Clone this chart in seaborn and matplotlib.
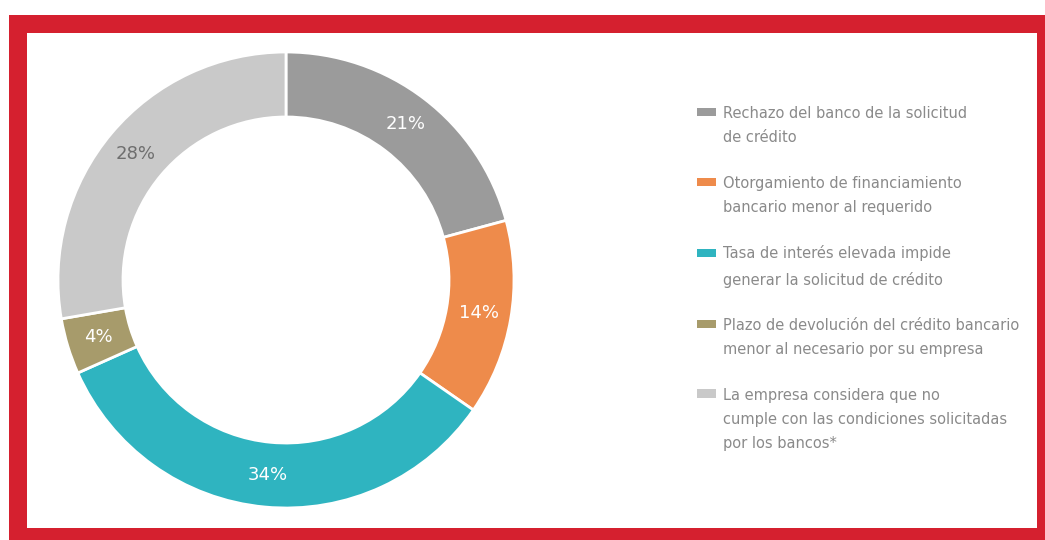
import matplotlib
matplotlib.use("Agg")
from matplotlib import pyplot as plt
from matplotlib.patches import Rectangle, Patch
from matplotlib.legend_handler import HandlerPatch
import seaborn as sns

# data
categorias = [
    "Rechazo del banco de la solicitud\nde crédito",
    "Otorgamiento de financiamiento\nbancario menor al requerido",
    "Tasa de interés elevada impide\ngenerar la solicitud de crédito",
    "Plazo de devolución del crédito bancario\nmenor al necesario por su empresa",
    "La empresa considera que no\ncumple con las condiciones solicitadas\npor los bancos*",
]
porcentajes = [21, 14, 34, 4, 28]
colores = ["#9b9b9b", "#ee8b4b", "#2fb4c0", "#a79b6b", "#c9c9c9"]
colores_texto = ["white", "white", "white", "white", "#6e6e6e"]

sns.set_theme(style="white")
plt.rcParams['font.family'] = ['DejaVu Sans']

W, H = 1045, 540
fig = plt.figure(figsize=(W / 100, H / 100), dpi=100)

# red frame around the chart
fig.patches.append(Rectangle((9 / W, 0), 1 - 9 / W, (H - 15) / H,
                             transform=fig.transFigure, facecolor="#d5202f",
                             edgecolor="none", zorder=-2))
fig.patches.append(Rectangle((27 / W, 12 / H), (1037 - 27) / W, (528 - 33) / H,
                             transform=fig.transFigure, facecolor="white",
                             edgecolor="none", zorder=-1))

# donut
cx, cy, r = 286, 280, 228
ax = fig.add_axes([(cx - r) / W, (H - cy - r) / H, 2 * r / W, 2 * r / H])
wedges, _, autotexts = ax.pie(
    porcentajes, colors=colores, startangle=90, counterclock=False,
    autopct='%1.0f%%', pctdistance=0.86,
    wedgeprops=dict(width=0.285, edgecolor="white", linewidth=2),
    textprops=dict(fontsize=13),
)
for t, c in zip(autotexts, colores_texto):
    t.set_color(c)
ax.set_xlim(-1, 1)
ax.set_ylim(-1, 1)
ax.axis('off')

# legend: marker next to the first line of each label
paso = 24.5 * 0.72  # line step in points


def marcador(nlineas):
    def f(legend, orig_handle, xdescent, ydescent, width, height, fontsize):
        return Rectangle((-xdescent, -ydescent + 1.5 + (nlineas - 1) / 2 * paso), width, height)
    return f


handles = [Patch(facecolor=c, edgecolor="none") for c in colores]
mapa = {h: HandlerPatch(patch_func=marcador(lab.count("\n") + 1))
        for h, lab in zip(handles, categorias)}
leg = fig.legend(handles, categorias, loc="upper left", handler_map=mapa,
                 bbox_to_anchor=(697 / W, 1 - 106 / H), frameon=False,
                 fontsize=10.5, handlelength=1.3, handleheight=0.5,
                 handletextpad=0.45, labelspacing=2.08, borderpad=0,
                 borderaxespad=0)
for t in leg.get_texts():
    t.set_color("#8a8a8a")
    t.set_linespacing(1.78)

plt.savefig("out.png", dpi=100)
